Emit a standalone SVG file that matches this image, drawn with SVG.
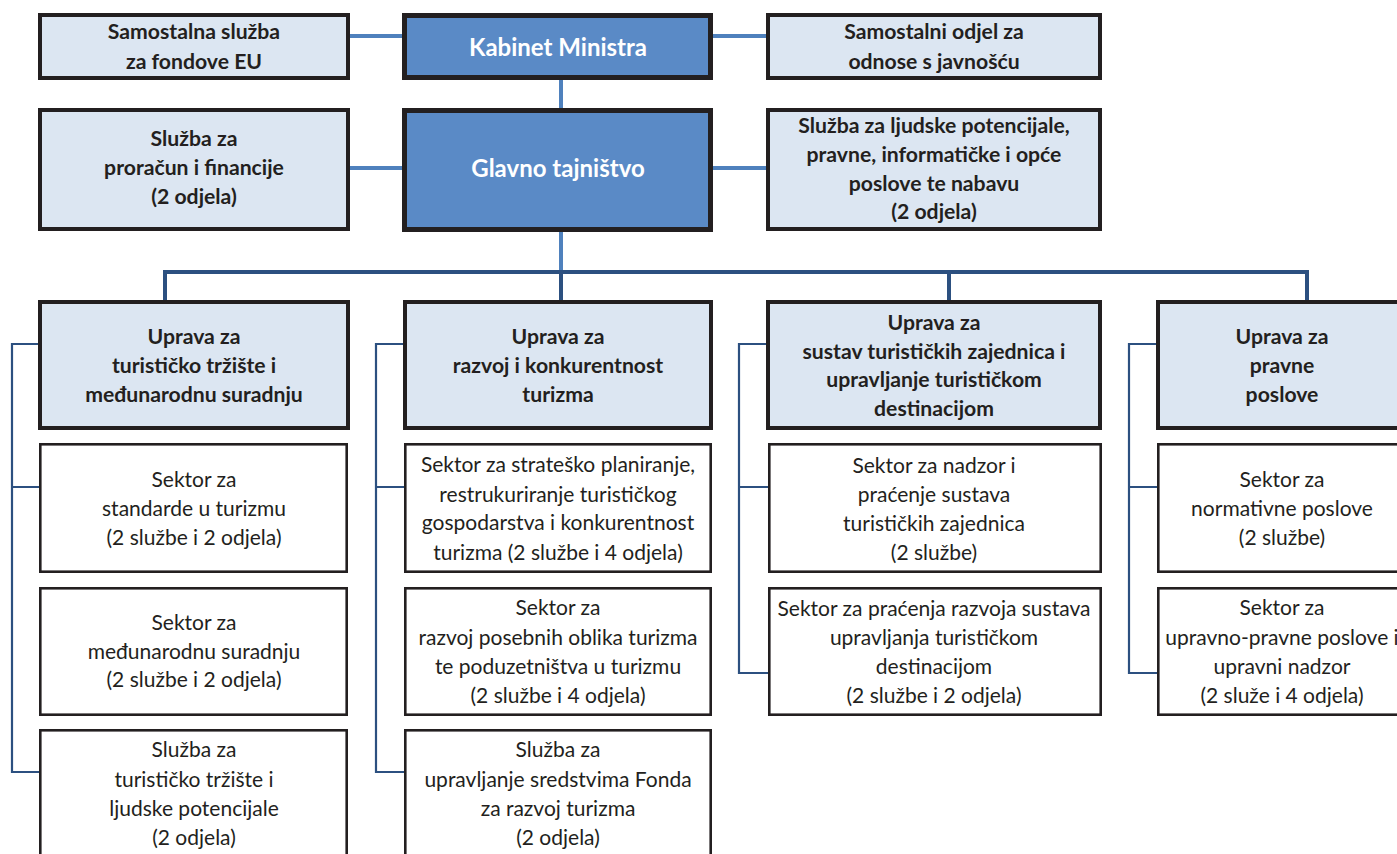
<svg xmlns="http://www.w3.org/2000/svg" width="1397" height="854" viewBox="0 0 1397 854">
<style>
text{font-family:Lato,"Open Sans","Liberation Sans",sans-serif;fill:#231f20;text-anchor:middle}
.b{font-weight:bold;font-size:21.2px}
.r{font-size:21px}
.big{font-weight:bold;font-size:24px;fill:#ffffff}
.lt{fill:#dce6f2;stroke:#231f20;stroke-width:4}
.dk{fill:#5a8ac6;stroke:#231f20;stroke-width:5}
.sub{fill:#ffffff;stroke:#231f20;stroke-width:2.6}
.c1{fill:none;stroke:#4f81bd;stroke-width:4}
.c2{fill:none;stroke:#2c5080;stroke-width:4}
.c3{fill:none;stroke:#2c5080;stroke-width:2.2}
</style>
<rect width="1397" height="854" fill="#ffffff"/>
<g id="connectors">
<path class="c1" d="M350,36 H402 M713,36 H766 M561,80 V108 M350,168 H402 M713,168 H766 M561,232 V272"/>
<path class="c2" d="M165,300 V272 H1307 V300 M561,272 V300 M949,272 V300"/>
<path class="c3" d="M38,344 H12 V772 H40 M12,487 H40"/>
<path class="c3" d="M403,344 H376 V772 H405 M376,487 H405"/>
<path class="c3" d="M766,344 H739 V673 H769 M739,487 H769"/>
<path class="c3" d="M1156,344 H1129 V673 H1158 M1129,487 H1158"/>
</g>
<g id="n-fondove-eu"><rect class="lt" x="40" y="15" width="308" height="63"/>
<text class="b" x="194"><tspan x="194" y="39">Samostalna služba</tspan><tspan x="194" y="69">za fondove EU</tspan></text></g>
<g id="n-kabinet"><rect class="dk" x="404.5" y="15.5" width="306" height="62"/>
<text class="big" x="558" y="55.5">Kabinet Ministra</text></g>
<g id="n-javnost"><rect class="lt" x="768" y="15" width="332" height="63"/>
<text class="b" x="934"><tspan x="934" y="39">Samostalni odjel za</tspan><tspan x="934" y="69">odnose s javnošću</tspan></text></g>
<g id="n-proracun"><rect class="lt" x="40" y="110" width="308" height="119"/>
<text class="b"><tspan x="194" y="146">Služba za</tspan><tspan x="194" y="175">proračun i financije</tspan><tspan x="194" y="204">(2 odjela)</tspan></text></g>
<g id="n-glavno"><rect class="dk" x="404.5" y="110.5" width="306" height="119"/>
<text class="big" x="558" y="176.5">Glavno tajništvo</text></g>
<g id="n-ljudski"><rect class="lt" x="768" y="110" width="332" height="119"/>
<text class="b"><tspan x="934" y="133">Služba za ljudske potencijale,</tspan><tspan x="934" y="162">pravne, informatičke i opće</tspan><tspan x="934" y="191">poslove te nabavu</tspan><tspan x="934" y="219">(2 odjela)</tspan></text></g>
<g id="n-uprava1"><rect class="lt" x="40" y="302" width="308" height="126"/>
<text class="b"><tspan x="194" y="344">Uprava za</tspan><tspan x="194" y="373">turističko tržište i</tspan><tspan x="194" y="402">međunarodnu suradnju</tspan></text></g>
<g id="n-uprava2"><rect class="lt" x="405" y="302" width="306" height="126"/>
<text class="b"><tspan x="558" y="344">Uprava za</tspan><tspan x="558" y="373">razvoj i konkurentnost</tspan><tspan x="558" y="402">turizma</tspan></text></g>
<g id="n-uprava3"><rect class="lt" x="768" y="302" width="332" height="126"/>
<text class="b"><tspan x="934" y="330">Uprava za</tspan><tspan x="934" y="359">sustav turističkih zajednica i</tspan><tspan x="934" y="387">upravljanje turističkom</tspan><tspan x="934" y="416">destinacijom</tspan></text></g>
<g id="n-uprava4"><rect class="lt" x="1158" y="302" width="250" height="126"/>
<text class="b"><tspan x="1282" y="344">Uprava za</tspan><tspan x="1282" y="373">pravne</tspan><tspan x="1282" y="402">poslove</tspan></text></g>
<g id="n-1a"><rect class="sub" x="40.3" y="444.3" width="306.4" height="127.4"/>
<text class="r"><tspan x="194" y="487">Sektor za</tspan><tspan x="194" y="516">standarde u turizmu</tspan><tspan x="194" y="545">(2 službe i 2 odjela)</tspan></text></g>
<g id="n-1b"><rect class="sub" x="40.3" y="588.3" width="306.4" height="126.4"/>
<text class="r"><tspan x="194" y="630">Sektor za</tspan><tspan x="194" y="659">međunarodnu suradnju</tspan><tspan x="194" y="687">(2 službe i 2 odjela)</tspan></text></g>
<g id="n-1c"><rect class="sub" x="40.3" y="730.3" width="306.4" height="140"/>
<text class="r"><tspan x="194" y="757">Služba za</tspan><tspan x="194" y="787">turističko tržište i</tspan><tspan x="194" y="816">ljudske potencijale</tspan><tspan x="194" y="845">(2 odjela)</tspan></text></g>
<g id="n-2a"><rect class="sub" x="405.3" y="444.3" width="305.4" height="127.4"/>
<text class="r"><tspan x="558" y="472">Sektor za strateško planiranje,</tspan><tspan x="558" y="502">restrukuriranje turističkog</tspan><tspan x="558" y="530">gospodarstva i konkurentnost</tspan><tspan x="558" y="560">turizma (2 službe i 4 odjela)</tspan></text></g>
<g id="n-2b"><rect class="sub" x="405.3" y="588.3" width="305.4" height="126.4"/>
<text class="r"><tspan x="558" y="615">Sektor za</tspan><tspan x="558" y="645">razvoj posebnih oblika turizma</tspan><tspan x="558" y="674">te poduzetništva u turizmu</tspan><tspan x="558" y="703">(2 službe i 4 odjela)</tspan></text></g>
<g id="n-2c"><rect class="sub" x="405.3" y="730.3" width="305.4" height="140"/>
<text class="r"><tspan x="558" y="757">Služba za</tspan><tspan x="558" y="787">upravljanje sredstvima Fonda</tspan><tspan x="558" y="816">za razvoj turizma</tspan><tspan x="558" y="845">(2 odjela)</tspan></text></g>
<g id="n-3a"><rect class="sub" x="769.3" y="444.3" width="331.4" height="127.4"/>
<text class="r"><tspan x="934" y="473">Sektor za nadzor i</tspan><tspan x="934" y="502">praćenje sustava</tspan><tspan x="934" y="531">turističkih zajednica</tspan><tspan x="934" y="560">(2 službe)</tspan></text></g>
<g id="n-3b"><rect class="sub" x="769.3" y="588.3" width="331.4" height="126.4"/>
<text class="r"><tspan x="934" y="616">Sektor za praćenja razvoja sustava</tspan><tspan x="934" y="645">upravljanja turističkom</tspan><tspan x="934" y="674">destinacijom</tspan><tspan x="934" y="703">(2 službe i 2 odjela)</tspan></text></g>
<g id="n-4a"><rect class="sub" x="1158.3" y="444.3" width="250" height="127.4"/>
<text class="r"><tspan x="1282" y="487">Sektor za</tspan><tspan x="1282" y="516">normativne poslove</tspan><tspan x="1282" y="545">(2 službe)</tspan></text></g>
<g id="n-4b"><rect class="sub" x="1158.3" y="588.3" width="250" height="126.4"/>
<text class="r"><tspan x="1282" y="615">Sektor za</tspan><tspan x="1282" y="645">upravno-pravne poslove i</tspan><tspan x="1282" y="674">upravni nadzor</tspan><tspan x="1282" y="703">(2 služe i 4 odjela)</tspan></text></g>
</svg>
